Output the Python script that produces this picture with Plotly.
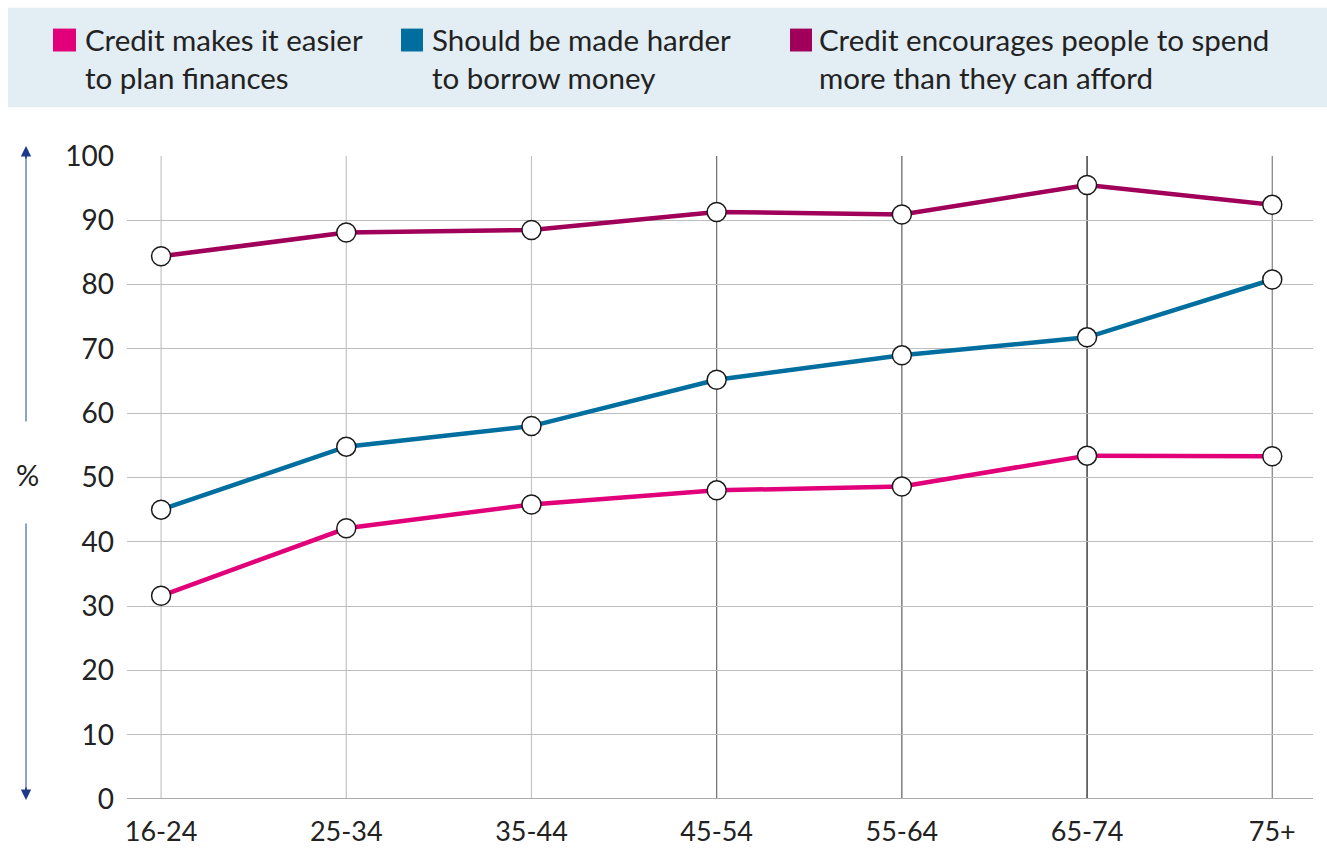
import plotly.graph_objects as go

categories = ["16-24", "25-34", "35-44", "45-54", "55-64", "65-74", "75+"]
easier = [31.6, 42.1, 45.8, 48.0, 48.6, 53.4, 53.3]
harder = [45.0, 54.8, 58.0, 65.2, 69.0, 71.8, 80.8]
encourages = [84.4, 88.1, 88.5, 91.3, 90.9, 95.5, 92.4]
series_names = ["Credit makes it easier<br>to plan finances",
                "Should be made harder<br>to borrow money",
                "Credit encourages people to spend<br>more than they can afford"]
colors = ["#e2007a", "#006e9f", "#a0005a"]
y_ticks = [0, 10, 20, 30, 40, 50, 60, 70, 80, 90, 100]
vgrid_colors = ["#c4c4c4", "#c4c4c4", "#c4c4c4", "#6e6e6e", "#5e5e5e", "#111111", "#808080"]

FONT = "Lato, Roboto, sans-serif"
W, H = 1327, 859
fig = go.Figure()

for vals, name, col in zip([easier, harder, encourages], series_names, colors):
    fig.add_trace(go.Scatter(
        x=categories, y=vals, mode="lines+markers", name=name,
        line=dict(color=col, width=4.5),
        marker=dict(size=19, color="white", line=dict(color="#1a1a1a", width=1.5)),
        showlegend=False, cliponaxis=False))

fig.update_layout(
    width=W, height=H,
    margin=dict(l=127, r=14, t=156, b=57),
    paper_bgcolor="white", plot_bgcolor="white",
    font=dict(family=FONT, color="#222222", size=26),
    xaxis=dict(type="category", range=[-0.184, 6.22], showgrid=False,
               zeroline=False, showline=False, ticks="", tickfont=dict(size=27),
               ticklabelstandoff=14),
    yaxis=dict(range=[0, 100], tickvals=y_ticks, showgrid=True,
               gridcolor="#bdbdbd", gridwidth=1, zeroline=False,
               showline=False, ticks="", tickfont=dict(size=28),
               ticklabelstandoff=12),
)

# vertical gridlines
for c, col in zip(categories, vgrid_colors):
    fig.add_shape(type="line", xref="x", yref="paper", x0=c, x1=c, y0=0, y1=1,
                  line=dict(color=col, width=1.2), layer="below")

# baseline at 0
fig.add_shape(type="line", xref="paper", yref="y", x0=0, x1=1, y0=0, y1=0,
              line=dict(color="#aaaaaa", width=2), layer="below")

def px_x(px):
    return (px - 127) / (W - 141)

def px_y(py):
    return (H - 57 - py) / (H - 213)

# legend band
fig.add_shape(type="rect", xref="paper", yref="paper",
              x0=px_x(8), x1=px_x(W), y0=px_y(107), y1=px_y(7),
              fillcolor="#e2edf4", line=dict(width=0), layer="below")

legend_sq = [(53, 76), (401, 423), (790, 812)]
legend_tx = [83, 430, 817]
for (x0, x1), tx, name, col in zip(legend_sq, legend_tx, series_names, colors):
    fig.add_shape(type="rect", xref="paper", yref="paper",
                  x0=px_x(x0), x1=px_x(x1), y0=px_y(51), y1=px_y(28),
                  fillcolor=col, line=dict(width=0))
    fig.add_annotation(xref="paper", yref="paper", x=px_x(tx), y=px_y(19),
                       xanchor="left", yanchor="top", text=name, showarrow=False,
                       align="left", font=dict(size=29.5, color="#222222", family=FONT))

# axis arrows and % label
arrow_col = "#6d8cc4"
head_col = "#1d3a8a"
fig.add_annotation(xref="paper", yref="paper", x=px_x(26), y=px_y(148),
                   ax=0, ay=423 - 148, showarrow=True, arrowhead=0,
                   arrowwidth=1.6, arrowcolor=arrow_col, text="")
fig.add_annotation(xref="paper", yref="paper", x=px_x(26), y=px_y(801),
                   ax=0, ay=525 - 801, showarrow=True, arrowhead=0,
                   arrowwidth=1.6, arrowcolor=arrow_col, text="")
fig.add_annotation(xref="paper", yref="paper", x=px_x(26), y=px_y(146),
                   ax=0, ay=14, showarrow=True, arrowhead=2, arrowsize=1.3,
                   arrowwidth=1.6, arrowcolor=head_col, text="")
fig.add_annotation(xref="paper", yref="paper", x=px_x(26), y=px_y(803),
                   ax=0, ay=-14, showarrow=True, arrowhead=2, arrowsize=1.3,
                   arrowwidth=1.6, arrowcolor=head_col, text="")
fig.add_annotation(xref="paper", yref="paper", x=px_x(27), y=px_y(476),
                   xanchor="center", yanchor="middle",
                   text="%", showarrow=False, font=dict(size=29, color="#222222", family=FONT))

fig.write_html("out.html")
